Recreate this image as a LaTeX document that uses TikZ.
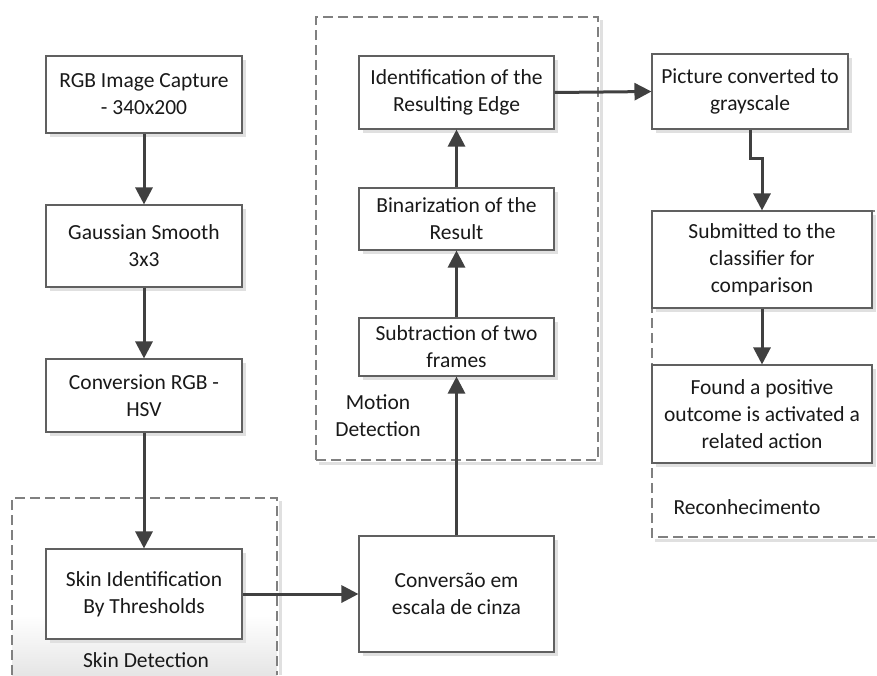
\documentclass[tikz,border=0pt]{standalone}
\usepackage{fontspec}
\setmainfont{Carlito}
\usetikzlibrary{arrows.meta,shadows}
\definecolor{boxline}{HTML}{606060}
\definecolor{arrcol}{HTML}{404040}
\definecolor{shadowgray}{HTML}{E0E0E0}
\definecolor{grpline}{HTML}{808080}
\tikzset{
  stepbox/.style={draw=boxline, fill=white, line width=1.1pt, align=center,
    font=\fontsize{21.5}{27}\selectfont, text=black!90, inner sep=2pt,
    general shadow={fill=shadowgray, shadow xshift=4pt, shadow yshift=-4pt}},
  arr/.style={draw=arrcol, line width=3pt, -{Triangle[length=17pt,width=17pt]}},
  grp/.style={draw=grpline, line width=1.1pt, dash pattern=on 10pt off 5pt},
  grpshadow/.style={draw=shadowgray, line width=3pt},
  lbl/.style={font=\fontsize{21.5}{27}\selectfont, text=black!90, align=center},
}
\begin{document}
\begin{tikzpicture}[x=1pt,y=-1pt]
\useasboundingbox (0,0) rectangle (877,675);
% skin group gradient
\shade[top color=white, bottom color=black!10] (12,615) rectangle (277,675);
% group shadows
\draw[grpshadow] (601,20) -- (601,463) -- (319,463);
\draw[grpshadow] (280,501) -- (280,675);
\draw[grpshadow] (655,540) -- (877,540);
% groups
\draw[grp] (316,460) -- (316,17) -- (598,17) -- (598,460) -- cycle;
\draw[grp] (12,675) -- (12,498) -- (277,498) -- (277,675);
\draw[grp] (875,211) -- (652,211) -- (652,537) -- (875,537);
\node[lbl] (lmotion) at (378,416) {Motion\\Detection};
\node[lbl, anchor=west] (lrecon) at (670,507) {Reconhecimento};
\node[lbl] (lskin) at (146,660) {Skin Detection};
% boxes
\node[stepbox, minimum width=196pt, minimum height=77pt] (rgb) at (144,94.5) {RGB Image Capture\\- 340x200};
\node[stepbox, minimum width=196pt, minimum height=82pt] (gauss) at (144,246) {Gaussian Smooth\\3x3};
\node[stepbox, minimum width=196pt, minimum height=73pt] (hsv) at (144,395.5) {Conversion RGB -\\HSV};
\node[stepbox, minimum width=196pt, minimum height=90pt] (skin) at (144,594) {Skin Identification\\By Thresholds};
\node[stepbox, minimum width=195pt, minimum height=116pt] (cinza) at (456.5,594) {Conversão em\\escala de cinza};
\node[stepbox, minimum width=195pt, minimum height=58pt] (sub) at (456.5,347) {Subtraction of two\\frames};
\node[stepbox, minimum width=195pt, minimum height=62pt] (bin) at (456.5,219) {Binarization of the\\Result};
\node[stepbox, minimum width=195pt, minimum height=73pt] (ident) at (456.5,92.5) {Identification of the\\Resulting Edge};
\node[stepbox, minimum width=196pt, minimum height=75pt] (pic) at (750,91.5) {Picture converted to\\grayscale};
\node[stepbox, minimum width=220pt, minimum height=97pt] (subm) at (762,259.5) {Submitted to the\\classifier for\\comparison};
\node[stepbox, minimum width=220pt, minimum height=98pt] (found) at (762,414) {Found a positive\\outcome is activated a\\related action};
% arrows
\draw[arr] (rgb) -- (gauss);
\draw[arr] (gauss) -- (hsv);
\draw[arr] (hsv) -- (skin);
\draw[arr] (skin) -- (cinza);
\draw[arr] (cinza) -- (sub);
\draw[arr] (sub) -- (bin);
\draw[arr] (bin) -- (ident);
\draw[arr] (ident.east) -- (pic.west);
\draw[arr] (pic.south) -- ++(0,29) -| (subm.north);
\draw[arr] (subm) -- (found);
\end{tikzpicture}
\end{document}
